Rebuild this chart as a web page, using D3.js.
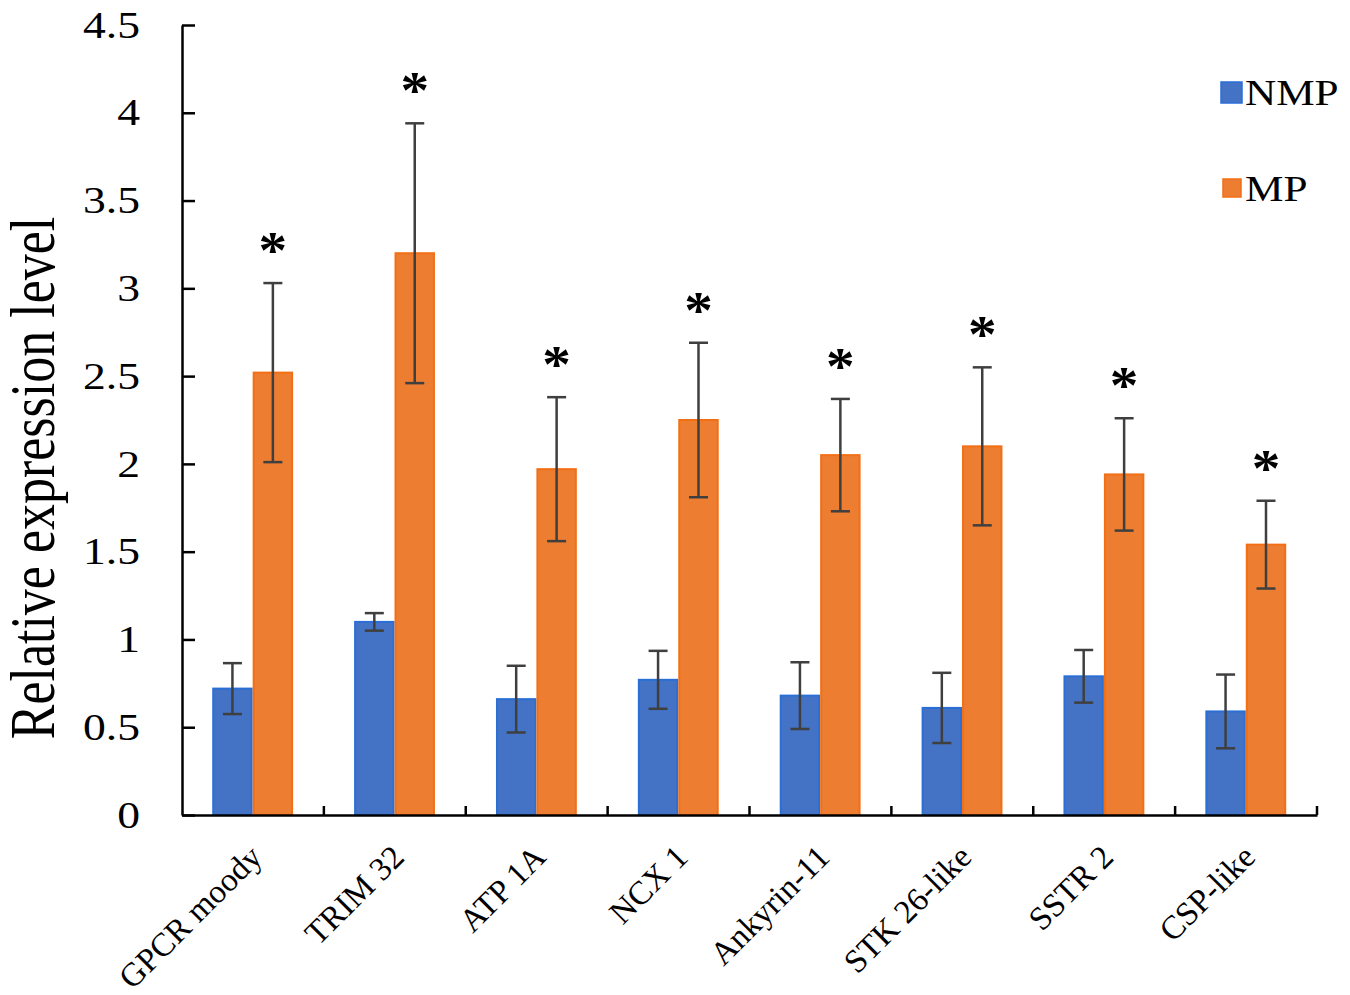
<!DOCTYPE html>
<meta charset="utf-8">
<script src="https://d3js.org/d3.v7.min.js"></script>
<style>
  body { margin: 0; background: #fff; }
  text { font-family: "Liberation Serif", "Times New Roman", serif; fill: #000; }
</style>
<div id="chart"></div>
<script>
// gene names on the x axis
const genes = ["GPCR moody", "TRIM 32", "ATP 1A", "NCX 1", "Ankyrin-11", "STK 26-like", "SSTR 2", "CSP-like"];
const groups = ["NMP", "MP"];

// relative expression level
const nmpMean = [0.72, 1.10, 0.66, 0.77, 0.68, 0.61, 0.79, 0.59];
const nmpErr  = [0.145, 0.05, 0.19, 0.165, 0.19, 0.20, 0.15, 0.21];
const mpMean  = [2.52, 3.20, 1.97, 2.25, 2.05, 2.10, 1.94, 1.54];
const mpErr   = [0.51, 0.74, 0.41, 0.44, 0.32, 0.45, 0.32, 0.25];
const stars   = ["*", "*", "*", "*", "*", "*", "*", "*"];

const yTicks = [0, 0.5, 1, 1.5, 2, 2.5, 3, 3.5, 4, 4.5];
const colors = { NMP: "#4472C4", MP: "#ED7D31" };
const edges  = { NMP: "#2a6fd6", MP: "#f26f16" };

const W = 1350, H = 995;
const margin = { top: 25, right: 33, bottom: 180, left: 182 };
const width = W - margin.left - margin.right,
      height = H - margin.top - margin.bottom;
const sx = 1.2; // the figure's text looks stretched sideways

const svg = d3.select("#chart").append("svg")
  .attr("width", W).attr("height", H)
  .append("g")
  .attr("transform", `translate(${margin.left},${margin.top})`);

const x0 = d3.scaleBand().domain(genes).range([0, width]);
const bw = x0.bandwidth();
const x1 = d3.scaleBand().domain(groups).range([bw * 0.213, bw * 0.783]);
const y = d3.scaleLinear().domain([0, 4.5]).range([height, 0]);

const data = genes.map((g, i) => ({
  gene: g,
  star: stars[i],
  vals: [
    { key: "NMP", mean: nmpMean[i], err: nmpErr[i] },
    { key: "MP", mean: mpMean[i], err: mpErr[i] }
  ]
}));

// bars
const gg = svg.selectAll(".gene").data(data).join("g")
  .attr("class", "gene")
  .attr("transform", d => `translate(${x0(d.gene)},0)`);

gg.selectAll("rect").data(d => d.vals).join("rect")
  .attr("x", d => x1(d.key) + 1)
  .attr("y", d => y(d.mean))
  .attr("width", x1.bandwidth() - 2)
  .attr("height", d => height - y(d.mean))
  .attr("fill", d => colors[d.key])
  .attr("stroke", d => edges[d.key])
  .attr("stroke-width", 2);

// error bars
const eb = gg.selectAll(".err").data(d => d.vals).join("g")
  .attr("class", "err")
  .attr("stroke", "#3f3f3f")
  .attr("stroke-width", 2.5);
const cx = d => x1(d.key) + x1.bandwidth() / 2;
eb.append("line")
  .attr("x1", cx).attr("x2", cx)
  .attr("y1", d => y(d.mean - d.err)).attr("y2", d => y(d.mean + d.err));
eb.append("line")
  .attr("x1", d => cx(d) - 9.5).attr("x2", d => cx(d) + 9.5)
  .attr("y1", d => y(d.mean + d.err)).attr("y2", d => y(d.mean + d.err));
eb.append("line")
  .attr("x1", d => cx(d) - 9.5).attr("x2", d => cx(d) + 9.5)
  .attr("y1", d => y(d.mean - d.err)).attr("y2", d => y(d.mean - d.err));

// significance stars above MP
gg.append("text")
  .attr("transform", d => `translate(${cx(d.vals[1])},${y(d.vals[1].mean + d.vals[1].err) - 15}) scale(1.1,1)`)
  .attr("text-anchor", "middle")
  .style("font-size", "52px")
  .style("font-weight", "bold")
  .text(d => d.star);

// y axis
const yAxis = svg.append("g")
  .call(d3.axisLeft(y).tickValues(yTicks).tickSizeInner(-13).tickSizeOuter(0).tickPadding(35)
    .tickFormat(d3.format("")));
yAxis.select(".domain").attr("stroke-width", 2.5);
yAxis.selectAll(".tick line").attr("stroke-width", 2.5);
yAxis.selectAll(".tick text")
  .style("font-size", "38px")
  .attr("transform", `scale(${sx},1)`);

// x axis line with small inward ticks between groups
const xAxis = svg.append("g").attr("transform", `translate(0,${height})`);
xAxis.call(d3.axisBottom(x0).tickSize(0).tickFormat(""));
xAxis.select(".domain").attr("stroke-width", 2.5);
xAxis.selectAll(".sep").data(genes).join("line")
  .attr("class", "sep")
  .attr("x1", d => x0(d) + bw).attr("x2", d => x0(d) + bw)
  .attr("y1", 0).attr("y2", -9)
  .attr("stroke", "#000").attr("stroke-width", 2.5);

// x labels rotated
svg.selectAll(".xl").data(genes).join("text")
  .attr("class", "xl")
  .attr("transform", d => `translate(${x0(d) + bw / 2 + 11},${height + 44}) rotate(-45)`)
  .attr("text-anchor", "end")
  .style("font-size", "33px")
  .text(d => d);

// y label
svg.append("text")
  .attr("transform", `translate(${54 - margin.left},${478 - margin.top}) scale(${sx},1) rotate(-90)`)
  .attr("text-anchor", "middle")
  .style("font-size", "52px")
  .text("Relative expression level");

// legend
const lg = svg.append("g").attr("transform", `translate(${1221 - margin.left},${82 - margin.top})`);
const lgi = lg.selectAll("g").data(groups).join("g")
  .attr("transform", (d, i) => `translate(0,${i * 96})`);
lgi.append("rect")
  .attr("x", (d, i) => i ? 2 : 0).attr("y", (d, i) => i ? 1 : 0)
  .attr("width", (d, i) => i ? 18 : 21).attr("height", (d, i) => i ? 18 : 21)
  .attr("fill", d => colors[d]).attr("stroke", d => edges[d]).attr("stroke-width", 1.5);
lgi.append("text")
  .attr("transform", `translate(24,23) scale(${sx},1)`)
  .style("font-size", "36px")
  .text(d => d);
</script>
